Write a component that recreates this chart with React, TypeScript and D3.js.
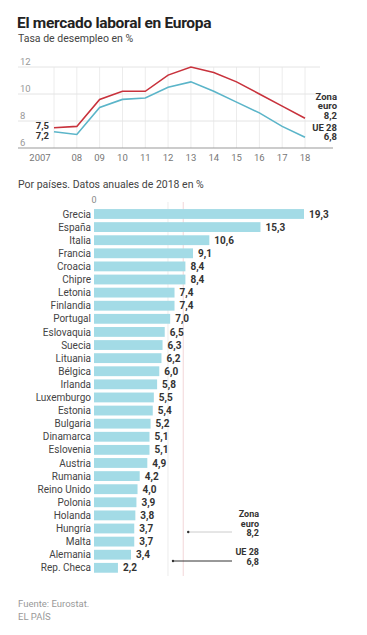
import React from 'react'
import * as d3 from 'd3'

// serie temporal, tasa de desempleo anual (%)
const years = [2007, 2008, 2009, 2010, 2011, 2012, 2013, 2014, 2015, 2016, 2017, 2018]
const yearLabels = ['2007', '08', '09', '10', '11', '12', '13', '14', '15', '16', '17', '18']
const euroArea = [7.5, 7.6, 9.6, 10.2, 10.2, 11.4, 12.0, 11.6, 10.9, 10.0, 9.1, 8.2]
const eu28 = [7.2, 7.0, 9.0, 9.6, 9.7, 10.5, 10.9, 10.2, 9.4, 8.6, 7.6, 6.8]
const yTicks = [6, 8, 10, 12]

// por países, 2018
const countries = ['Grecia', 'España', 'Italia', 'Francia', 'Croacia', 'Chipre', 'Letonia', 'Finlandia',
  'Portugal', 'Eslovaquia', 'Suecia', 'Lituania', 'Bélgica', 'Irlanda', 'Luxemburgo', 'Estonia',
  'Bulgaria', 'Dinamarca', 'Eslovenia', 'Austria', 'Rumania', 'Reino Unido', 'Polonia', 'Holanda',
  'Hungría', 'Malta', 'Alemania', 'Rep. Checa']
const rates2018 = [19.3, 15.3, 10.6, 9.1, 8.4, 8.4, 7.4, 7.4, 7.0, 6.5, 6.3, 6.2, 6.0, 5.8, 5.5, 5.4,
  5.2, 5.1, 5.1, 4.9, 4.2, 4.0, 3.9, 3.8, 3.7, 3.7, 3.4, 2.2]

const RED = '#c8323c'
const BLUE = '#5bb5c9'
const BAR = '#a3dbe6'
const FONT = 'Roboto, sans-serif'

const fmt = (v: number) => v.toFixed(1).replace('.', ',')

const App = () => {
  const W = 367, H = 635

  // --- line chart
  const x = d3.scaleLinear().domain([2007, 2018]).range([54, 305])
  const y = d3.scaleLinear().domain([6, 12]).range([148, 67])
  const line = d3.line<number>()
    .x((d, i) => x(years[i]))
    .y(d => y(d))
  const last = years.length - 1

  // --- bar chart
  const xb = d3.scaleLinear().domain([0, 19.3]).range([94, 304])
  const yb = d3.scaleBand<string>().domain(countries).range([207.5, 574.3]).paddingInner(0.25).paddingOuter(0.12)

  return (
    <svg width={W} height={H} style={{ position: 'absolute', left: 0, top: 0, background: '#fff' }} fontFamily={FONT}>
      <text x={17} y={28} fontSize={15.5} fontWeight={700} fill="#222" letterSpacing={-0.3}>El mercado laboral en Europa</text>
      <text x={18} y={42} fontSize={10.5} fill="#444">Tasa de desempleo en %</text>

      {/* vertical grid */}
      {years.map(yr => (
        <line key={'vg' + yr} x1={x(yr)} x2={x(yr)} y1={y(12)} y2={y(6)} stroke="#ececec" strokeWidth={1} />
      ))}
      {yTicks.filter(t => t > 6).map(t => (
        <line key={'hg' + t} x1={18} x2={320} y1={y(t)} y2={y(t)} stroke="#e4e4e4" strokeWidth={1} />
      ))}
      <line x1={18} x2={333} y1={y(6)} y2={y(6)} stroke="#999" strokeWidth={1} />
      {yTicks.map(t => (
        <text key={'yt' + t} x={20} y={y(t) - 2} fontSize={9.5} fill="#999">{t}</text>
      ))}
      {years.map((yr, i) => (
        <text key={'xt' + yr} x={i === 0 ? x(yr) - 14 : x(yr)} y={161} fontSize={9.5} fill="#777" textAnchor="middle">{yearLabels[i]}</text>
      ))}

      <path d={line(eu28) || ''} fill="none" stroke={BLUE} strokeWidth={1.6} />
      <path d={line(euroArea) || ''} fill="none" stroke={RED} strokeWidth={1.6} />

      <g fontSize={9.5} fontWeight={700} fill="#333" textAnchor="end">
        <text x={x(2007) - 5} y={y(euroArea[0]) + 1.5}>{fmt(euroArea[0])}</text>
        <text x={x(2007) - 5} y={y(eu28[0]) + 7}>{fmt(eu28[0])}</text>
        <text x={337} y={99.5}>
          <tspan x={337}>Zona</tspan>
          <tspan x={337} dy={9.5}>euro</tspan>
          <tspan x={337} dy={9.5}>{fmt(euroArea[last])}</tspan>
          <tspan x={337} dy={12}>UE 28</tspan>
          <tspan x={337} dy={9.6}>{fmt(eu28[last])}</tspan>
        </text>
      </g>

      {/* bar chart */}
      <text x={18} y={188} fontSize={10.5} fill="#444">Por países. Datos anuales de 2018 en %</text>
      <text x={xb(0)} y={203} fontSize={9} fill="#888" textAnchor="middle">0</text>

      <line x1={xb(eu28[last])} x2={xb(eu28[last])} y1={202} y2={576} stroke="#ececec" strokeWidth={1} />
      <line x1={xb(euroArea[last])} x2={xb(euroArea[last])} y1={202} y2={576} stroke="#f2d6d8" strokeWidth={1} />

      {countries.map((c, i) => {
        const yy = yb(c) as number
        const bw = yb.bandwidth()
        return (
          <g key={c}>
            <rect x={xb(0)} y={yy} width={xb(rates2018[i]) - xb(0)} height={bw} fill={BAR} />
            <text x={xb(0) - 3} y={yy + bw / 2 + 3.6} fontSize={10} fill="#444" textAnchor="end">{c}</text>
            <text x={xb(rates2018[i]) + 5} y={yy + bw / 2 + 3.6} fontSize={10} fontWeight={700} fill="#333">{fmt(rates2018[i])}</text>
          </g>
        )
      })}

      {/* media de referencia */}
      <line x1={232} x2={xb(euroArea[last]) + 5} y1={532} y2={532} stroke="#ccc" strokeWidth={1} />
      <circle cx={xb(euroArea[last]) + 5} cy={532} r={1.2} fill="#333" />
      <line x1={232} x2={xb(eu28[last]) + 5} y1={561} y2={561} stroke="#333" strokeWidth={1} />
      <circle cx={xb(eu28[last]) + 5} cy={561} r={1.2} fill="#333" />
      <g fontSize={9} fontWeight={700} fill="#333" textAnchor="end">
        <text x={259} y={517}>
          <tspan x={259}>Zona</tspan>
          <tspan x={259} dy={9.5}>euro</tspan>
          <tspan x={259} dy={9.5}>{fmt(euroArea[last])}</tspan>
        </text>
        <text x={259} y={554.5}>
          <tspan x={259}>UE 28</tspan>
          <tspan x={259} dy={10}>{fmt(eu28[last])}</tspan>
        </text>
      </g>

      <text x={18} y={607} fontSize={9.5} fill="#999">Fuente: Eurostat.</text>
      <text x={18} y={620} fontSize={9.5} fill="#999">EL PAÍS</text>
    </svg>
  )
}

export default App
